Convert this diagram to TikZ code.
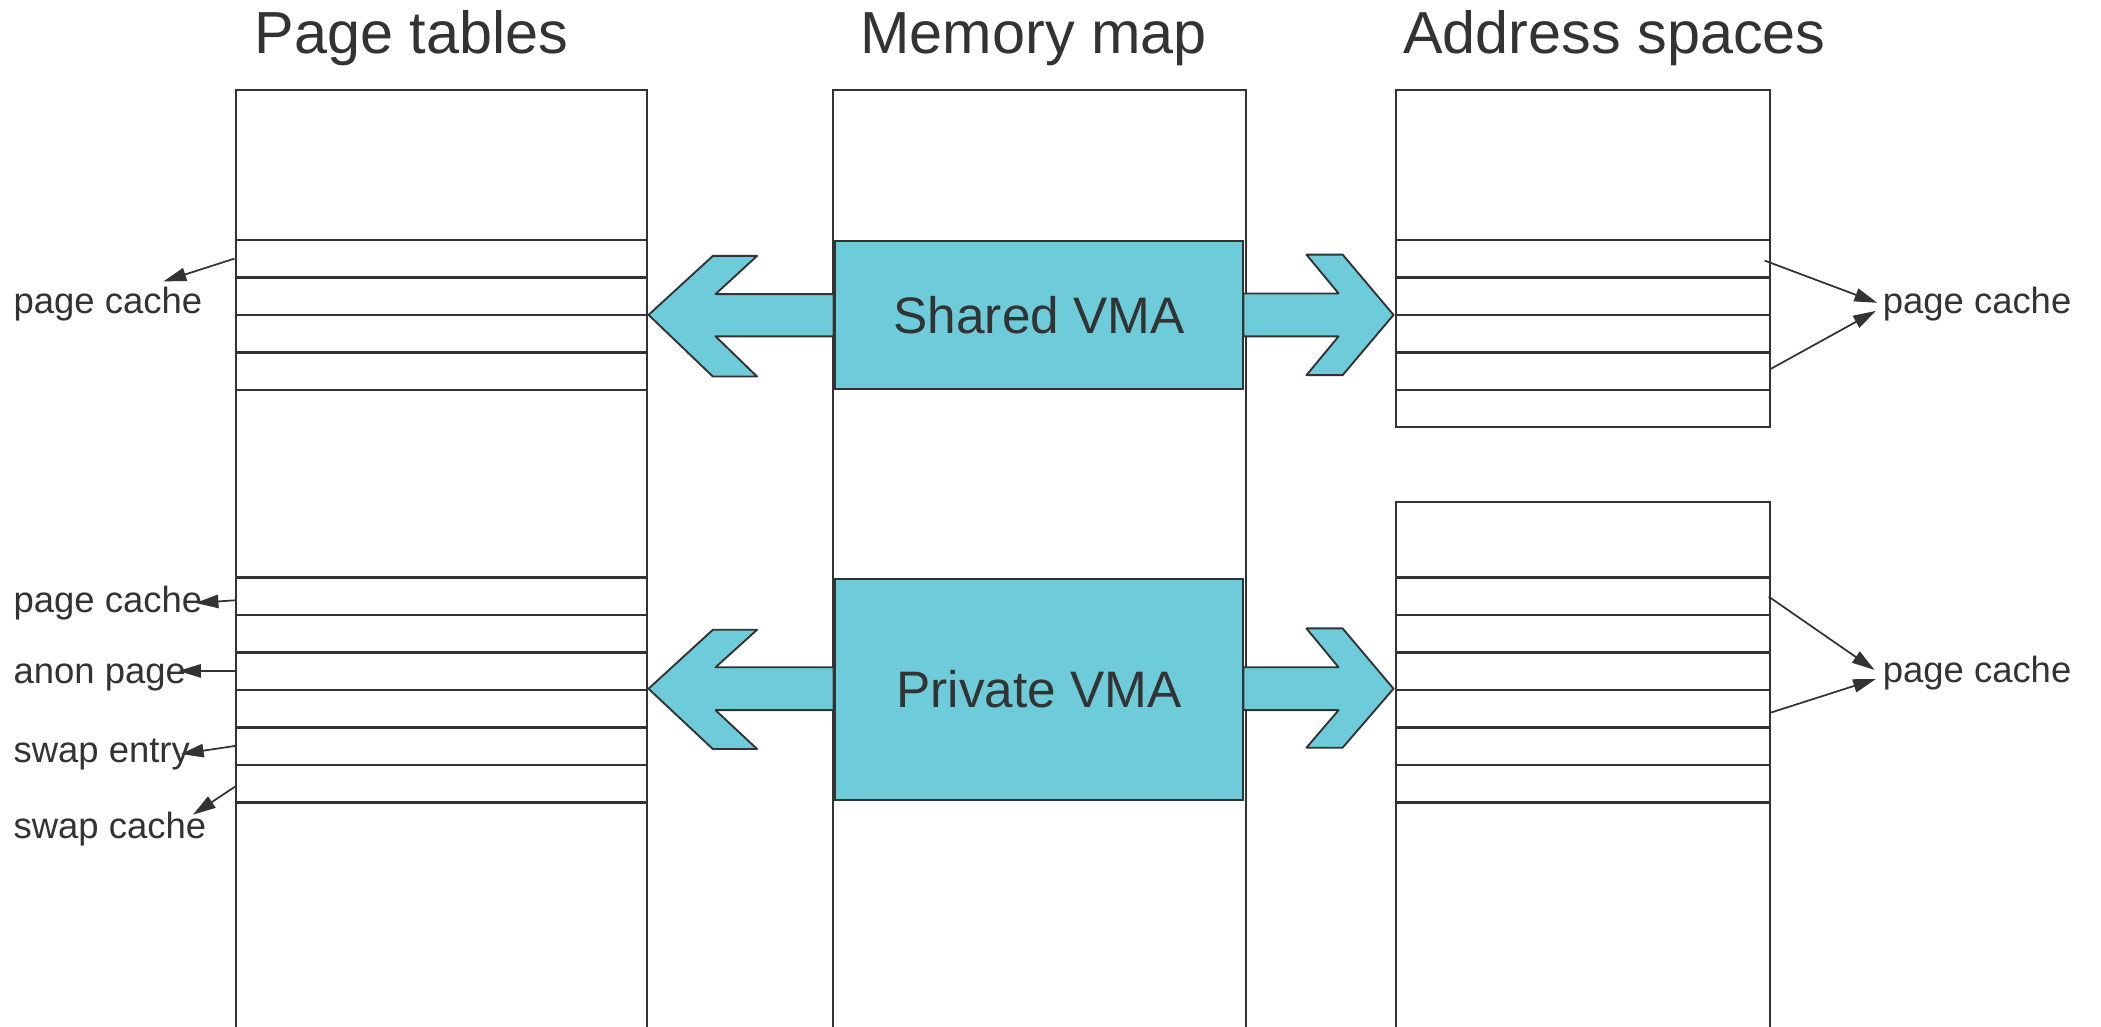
\documentclass[tikz,border=0pt]{standalone}
\usepackage{fontspec}
\setmainfont{Liberation Sans}
\usetikzlibrary{arrows.meta}
\definecolor{ink}{HTML}{333333}
\definecolor{vma}{HTML}{6ECBD9}
\tikzset{
  colbox/.style={draw=ink, line width=1.5pt, fill=white, anchor=north west,
    inner sep=0pt, outer sep=0pt},
  rowline/.style={draw=ink, line width=1.7pt},
  vmabox/.style={draw=ink, line width=1.5pt, fill=vma, anchor=north west,
    inner sep=0pt, outer sep=0pt, text=ink,
    font=\fontsize{38.3}{44}\selectfont},
  bigarrow/.style={draw=ink, line width=1.4pt, fill=vma, line join=round},
  title/.style={anchor=base west, inner sep=0pt, text=ink,
    font=\fontsize{44.3}{50}\selectfont},
  lbl/.style={anchor=base west, inner sep=0pt, text=ink,
    font=\fontsize{27.2}{32}\selectfont},
  ref/.style={draw=ink, line width=1.3pt,
    -{Triangle[length=17pt,width=10pt]}},
}
\begin{document}
\begin{tikzpicture}[x=1pt, y=-1pt]
  \useasboundingbox (0,0) rectangle (1568,766);
  \fill[white] (0,0) rectangle (1568,766);

  % column headings
  \node[title] (tPT) at (190,40) {Page tables};
  \node[title] (tMM) at (642,40) {Memory map};
  \node[title] (tAS) at (1047,40) {Address spaces};

  % the three columns
  \node[colbox, minimum width=307pt, minimum height=720pt] (pt) at (176,67) {};
  \node[colbox, minimum width=308pt, minimum height=720pt] (mm) at (622,67) {};
  \node[colbox, minimum width=279pt, minimum height=252pt] (asA) at (1042,67) {};
  \node[colbox, minimum width=279pt, minimum height=412pt] (asB) at (1042,375) {};

  % page table entries
  \foreach \y in {179,207,235,263,291,431,459,487,515,543,571,599}
    \draw[rowline] (176,\y) -- (483,\y);
  % address space entries
  \foreach \y in {179,207,235,263,291}
    \draw[rowline] (1042,\y) -- (1321,\y);
  \foreach \y in {431,459,487,515,543,571,599}
    \draw[rowline] (1042,\y) -- (1321,\y);

  % block arrows between the columns
  \draw[bigarrow] (622,219.5) -- (534,219.5) -- (565,191) -- (532,191) -- (484,235)
    -- (532,281) -- (565,281) -- (534,251) -- (622,251) -- cycle;
  \draw[bigarrow] (928,219) -- (999,219) -- (975,190) -- (1002,190) -- (1040,235)
    -- (1002,280) -- (975,280) -- (999,251) -- (928,251) -- cycle;
  \draw[bigarrow] (622,498) -- (534,498) -- (565,470) -- (532,470) -- (484,514)
    -- (532,559) -- (565,559) -- (534,530) -- (622,530) -- cycle;
  \draw[bigarrow] (928,498) -- (999,498) -- (975,469) -- (1002,469) -- (1040,514)
    -- (1002,558) -- (975,558) -- (999,530) -- (928,530) -- cycle;

  % VMAs
  \node[vmabox, minimum width=305pt, minimum height=110pt] (shared) at (623,180) {Shared VMA};
  \node[vmabox, minimum width=305pt, minimum height=165pt] (private) at (623,432) {Private VMA};

  % labels
  \node[lbl] (l1) at (10,234) {page cache};
  \node[lbl] (l2) at (10,457) {page cache};
  \node[lbl] (l3) at (10,510) {anon page};
  \node[lbl] (l4) at (10,569) {swap entry};
  \node[lbl] (l5) at (10,626) {swap cache};
  \node[lbl] (r1) at (1405,234) {page cache};
  \node[lbl] (r2) at (1405,509) {page cache};

  % entry reference points
  \coordinate (p1) at (175,193);     \coordinate (q1) at (122,210);
  \coordinate (p2) at (175.5,448);   \coordinate (q2) at (146,450);
  \coordinate (p3) at (175.5,500.7); \coordinate (q3) at (133,500.7);
  \coordinate (p4) at (175.5,556.7); \coordinate (q4) at (135,562.7);
  \coordinate (p5) at (175.5,587);   \coordinate (q5) at (144,608);
  \coordinate (s1) at (1317,194.5);  \coordinate (u1) at (1401,226);
  \coordinate (s2) at (1321,275.6);  \coordinate (u2) at (1400,232);
  \coordinate (s3) at (1320,445.3);  \coordinate (u3) at (1399,500);
  \coordinate (s4) at (1321,532);    \coordinate (u4) at (1400,506.7);

  \draw[ref] (p1) -- (q1);
  \draw[ref] (p2) -- (q2);
  \draw[ref] (p3) -- (q3);
  \draw[ref] (p4) -- (q4);
  \draw[ref] (p5) -- (q5);
  \draw[ref] (s1) -- (u1);
  \draw[ref] (s2) -- (u2);
  \draw[ref] (s3) -- (u3);
  \draw[ref] (s4) -- (u4);
\end{tikzpicture}
\end{document}
